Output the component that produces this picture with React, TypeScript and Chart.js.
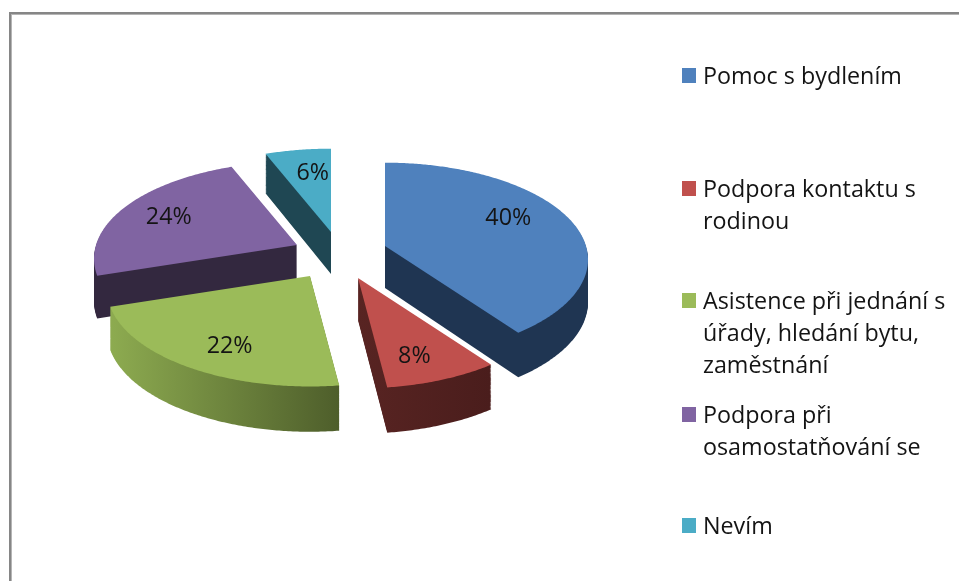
import React, { useEffect, useRef } from "react";
import { Chart, registerables } from "chart.js";

Chart.register(...registerables);

const categories = [
  ["Pomoc s bydlením"],
  ["Podpora kontaktu s", "rodinou"],
  ["Asistence při jednání s", "úřady, hledání bytu,", "zaměstnání"],
  ["Podpora při", "osamostatňování se"],
  ["Nevím"],
];
const shares = [40, 8, 22, 24, 6];
const topColors = ["#4f81bd", "#c0504d", "#9bbb59", "#8064a2", "#4bacc6"];
const wallLeft = ["#1f3552", "#582422", "#8dab50", "#33283f", "#1f4753"];
const wallRight = ["#1f3552", "#4a1d1c", "#4e5e2b", "#33283f", "#1f4753"];

// Where each exploded slice's point sits, and how the disc is tilted.
const sliceApex = [[385, 246], [358, 278], [310, 276], [297, 245], [331, 232]];
const RX = 201, RY = 95, PERSPECTIVE = 0.14, DEPTH = 42;
const LABEL_RADIUS = [0.68, 0.76, 0.74, 0.73, 0.74];
const labelNudge = [[-3, -8], [-6, 4], [7, 5], [-1, 1], [7, 4]];

const FONT = '"Open Sans", sans-serif';
const legendFirstLine = [77, 190, 302, 416, 527];
const LINE_STEP = 32.3;

function weight(Y: number) {
  return 1 / (1 - PERSPECTIVE * Y);
}

function project(i: number, t: number, f = 1, drop = 0) {
  const X = Math.sin(t) * f;
  const Y = -Math.cos(t) * f;
  const w = weight(Y);
  return [sliceApex[i][0] + RX * X * w, sliceApex[i][1] + RY * Y * w + drop * Math.sqrt(w)];
}

function tracePath(ctx: CanvasRenderingContext2D, i: number, a0: number, a1: number, drop: number) {
  ctx.beginPath();
  ctx.moveTo(sliceApex[i][0], sliceApex[i][1] + drop);
  const n = Math.ceil((a1 - a0) / 0.01);
  for (let k = 0; k <= n; k++) {
    const [x, y] = project(i, a0 + ((a1 - a0) * k) / n, 1, drop);
    ctx.lineTo(x, y);
  }
  ctx.closePath();
}

const tiltedPie = {
  id: "tiltedPie",
  beforeDraw(chart: any) {
    const { ctx, width, height } = chart;
    ctx.save();
    ctx.fillStyle = "#fff";
    ctx.fillRect(0, 0, width, height);
    ctx.fillStyle = "#b5b5b5";
    ctx.fillRect(9, 12, width, 3);
    ctx.fillRect(9, 12, 3, height);
    ctx.fillStyle = "#868686";
    ctx.fillRect(9, 12, width, 2);
    ctx.fillRect(9, 12, 2, height);
    ctx.restore();
  },
  beforeDatasetDraw(chart: any, args: any) {
    const { ctx } = chart;
    const arcs = chart.getDatasetMeta(args.index).data;
    const order = arcs.map((_: any, i: number) => i).sort((a: number, b: number) => sliceApex[a][1] - sliceApex[b][1]);
    ctx.save();
    for (const i of order) {
      const a0 = arcs[i].startAngle + Math.PI / 2;
      const a1 = arcs[i].endAngle + Math.PI / 2;
      const xs: number[] = [sliceApex[i][0]];
      for (let t = a0; t <= a1; t += 0.02) xs.push(project(i, t)[0]);
      const g = ctx.createLinearGradient(Math.min(...xs), 0, Math.max(...xs), 0);
      g.addColorStop(0, wallLeft[i]);
      g.addColorStop(1, wallRight[i]);
      ctx.fillStyle = g;
      for (let d = DEPTH; d >= 1; d--) {
        tracePath(ctx, i, a0, a1, d);
        ctx.fill();
      }
      ctx.fillStyle = arcs[i].options.backgroundColor;
      tracePath(ctx, i, a0, a1, 0);
      ctx.fill();
    }
    ctx.restore();
    return false;
  },
  afterDraw(chart: any) {
    const { ctx } = chart;
    const arcs = chart.getDatasetMeta(0).data;
    const values = chart.data.datasets[0].data;
    ctx.save();
    ctx.fillStyle = "#141414";
    ctx.font = `23.3px ${FONT}`;
    ctx.textBaseline = "middle";
    ctx.textAlign = "center";
    arcs.forEach((arc: any, i: number) => {
      const mid = (arc.startAngle + arc.endAngle) / 2 + Math.PI / 2;
      const [x, y] = project(i, mid, LABEL_RADIUS[i]);
      ctx.fillText(`${values[i]}%`, x + labelNudge[i][0], y + labelNudge[i][1]);
    });
    ctx.textAlign = "left";
    chart.data.labels.forEach((lines: string[], i: number) => {
      ctx.fillStyle = topColors[i];
      ctx.fillRect(682, legendFirstLine[i] - 9, 14, 15);
      ctx.fillStyle = "#141414";
      lines.forEach((line, k) => ctx.fillText(line, 703, legendFirstLine[i] + k * LINE_STEP));
    });
    ctx.restore();
  },
};

export default function App() {
  const ref = useRef<HTMLCanvasElement>(null);
  useEffect(() => {
    const chart = new Chart(ref.current!, {
      type: "pie",
      data: {
        labels: categories as any,
        datasets: [{ data: shares, backgroundColor: topColors, borderWidth: 0 }],
      },
      options: {
        animation: false,
        responsive: false,
        plugins: { legend: { display: false }, tooltip: { enabled: false } },
      },
      plugins: [tiltedPie],
    });
    return () => chart.destroy();
  }, []);
  return (
    <canvas
      ref={ref}
      width={959}
      height={581}
      style={{ position: "absolute", left: 0, top: 0, display: "block" }}
    />
  );
}
